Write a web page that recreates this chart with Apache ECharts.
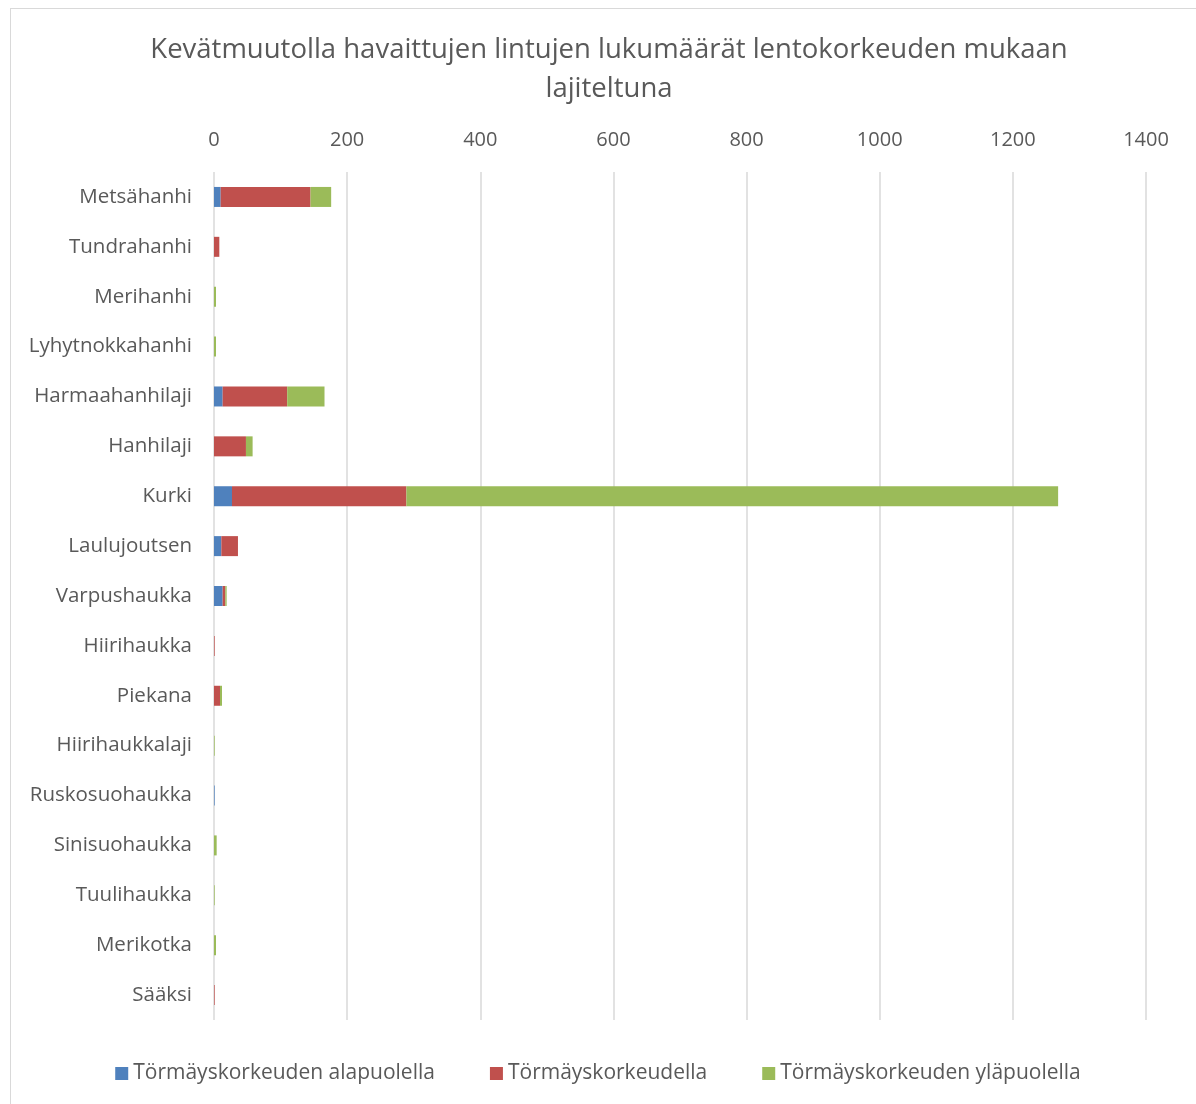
<!DOCTYPE html>
<html>
<head>
<meta charset="utf-8">
<script src="https://cdn.jsdelivr.net/npm/echarts@6/dist/echarts.min.js"></script>
<style>
  html, body { margin: 0; padding: 0; background: #fff; }
  #chart { position: absolute; left: 0; top: 0; width: 1196px; height: 1104px; }
  #frame { position: absolute; left: 10px; top: 8px; width: 1200px; height: 1110px; border: 1px solid #d9d9d9; box-sizing: border-box; }
</style>
</head>
<body>
<div id="frame"></div>
<div id="chart"></div>
<script>
const species = ['Metsähanhi', 'Tundrahanhi', 'Merihanhi', 'Lyhytnokkahanhi', 'Harmaahanhilaji', 'Hanhilaji', 'Kurki',
    'Laulujoutsen', 'Varpushaukka', 'Hiirihaukka', 'Piekana', 'Hiirihaukkalaji', 'Ruskosuohaukka', 'Sinisuohaukka',
    'Tuulihaukka', 'Merikotka', 'Sääksi'];
const below = [10, 0, 0, 0, 13, 0, 27, 11, 13, 0, 0, 0, 1, 0, 0, 0, 0];
const atHeight = [135, 8, 0, 0, 97, 48, 262, 25, 4, 1, 9, 0, 0, 0, 0, 0, 1];
const above = [31, 0, 3, 3, 56, 10, 979, 0, 2, 0, 3, 1, 0, 4, 1, 3, 0];
const xTicks = [0, 200, 400, 600, 800, 1000, 1200, 1400];

const font = '"Open Sans", sans-serif';
const textColor = '#595959';

const chart = echarts.init(document.getElementById('chart'));
const option = {
    animation: false,
    title: {
        text: 'Kevätmuutolla havaittujen lintujen lukumäärät lentokorkeuden mukaan\nlajiteltuna',
        left: 604,
        textAlign: 'center',
        top: 26,
        textStyle: { color: textColor, fontFamily: font, fontWeight: 'normal', fontSize: 27.5, lineHeight: 39 }
    },
    legend: {
        bottom: 15,
        left: 'center',
        itemWidth: 13,
        itemHeight: 13,
        itemGap: 55,
        icon: 'rect',
        textStyle: { color: textColor, fontFamily: font, fontSize: 21 },
        data: ['Törmäyskorkeuden alapuolella', 'Törmäyskorkeudella', 'Törmäyskorkeuden yläpuolella']
    },
    grid: { left: 214, right: 50, top: 172, bottom: 84 },
    xAxis: {
        type: 'value',
        position: 'top',
        min: xTicks[0],
        max: xTicks[xTicks.length - 1],
        interval: 200,
        axisLine: { show: false },
        axisTick: { show: false },
        axisLabel: { color: textColor, fontFamily: font, fontSize: 20, margin: 22, formatter: v => String(v) },
        splitLine: { lineStyle: { color: '#d9d9d9', width: 1.5 } }
    },
    yAxis: {
        type: 'category',
        inverse: true,
        data: species,
        axisLine: { show: false },
        axisTick: { show: false },
        axisLabel: { color: textColor, fontFamily: font, fontSize: 20.5, margin: 22 }
    },
    series: [
        { name: 'Törmäyskorkeuden alapuolella', type: 'bar', stack: 'a', barWidth: 20, data: below, itemStyle: { color: '#4f81bd' } },
        { name: 'Törmäyskorkeudella', type: 'bar', stack: 'a', barWidth: 20, data: atHeight, itemStyle: { color: '#c0504d' } },
        { name: 'Törmäyskorkeuden yläpuolella', type: 'bar', stack: 'a', barWidth: 20, data: above, itemStyle: { color: '#9bbb59' } }
    ]
};
chart.setOption(option);

window.addEventListener('resize', () => {
    chart.resize();
});
</script>
</body>
</html>
